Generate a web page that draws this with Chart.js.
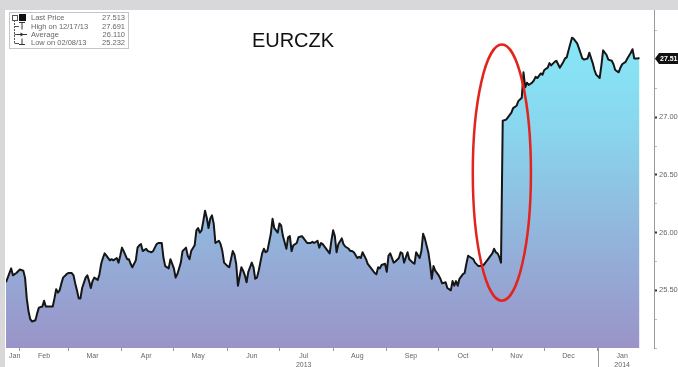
<!DOCTYPE html>
<html>
<head>
<meta charset="utf-8">
<script src="https://cdn.jsdelivr.net/npm/chart.js@4.4.1/dist/chart.umd.min.js"></script>
<style>
  html, body { margin: 0; padding: 0; background: #fff; }
  canvas { display: block; }
</style>
</head>
<body>
<canvas id="chart" width="678" height="367"></canvas>
<script>
// days counted from 2013-01-01, EURCZK close
const days = [
  23,24,26,27,28,29,31,33,34,35,36,37,38,40,41,42,44,45,46,47,50,51,52,53,54,55,56,58,59,61,62,63,64,65,66,67,69,70,71,72,73,74,76,77,78,79,80,81,83,84,85,87,88,
  89,90,91,93,94,95,96,98,99,100,101,102,104,105,107,108,110,111,113,114,115,117,118,120,121,122,124,125,127,128,129,130,132,133,134,135,136,137,138,139,140,141,142,143,144,146,147,148,149,151,152,
  154,155,156,157,159,160,161,162,163,165,166,167,168,169,171,172,173,174,176,177,178,180,181,182,183,185,186,187,188,189,191,192,194,195,197,199,200,201,203,204,205,206,208,210,211,212,213,214,215,217,218,219,
  221,222,223,224,226,227,228,229,231,232,234,236,237,238,239,240,242,243,244,245,247,248,250,251,252,253,255,256,258,259,260,262,263,264,265,267,268,269,270,271,273,274,275,277,278,280,
  281,282,283,284,285,287,288,289,290,292,293,294,296,297,299,300,301,303,304,305,306,307,308,309,
  310,312,313,315,316,318,319,321,322,323,324,325,327,328,329,330,332,333,334,336,337,338,340,341,343,345,346,347,348,350,351,353,354,356,357,359,360,362,363,364,366,367,368,370,371,373,374,375,377,378,379,381,382,384,385,386,388,389
];
const prices = [
  25.57,25.61,25.69,25.63,25.64,25.65,25.68,25.67,25.61,25.43,25.32,25.25,25.23,25.24,25.30,25.35,25.36,25.41,25.36,25.36,25.36,25.43,25.51,25.48,25.50,25.56,25.61,25.64,25.65,25.65,25.63,25.56,25.50,25.43,25.43,25.52,25.61,25.63,25.58,25.52,25.58,25.61,25.59,25.64,25.73,25.78,25.82,25.80,25.76,25.77,25.76,25.78,25.74,
  25.80,25.87,25.84,25.77,25.77,25.73,25.70,25.76,25.87,25.89,25.90,25.84,25.86,25.84,25.83,25.84,25.90,25.91,25.91,25.78,25.71,25.69,25.77,25.69,25.61,25.64,25.74,25.84,25.87,25.80,25.77,25.84,25.89,26.02,26.04,26.00,26.02,26.10,26.19,26.13,26.04,26.12,26.15,26.08,25.91,25.93,25.90,25.84,25.74,25.71,25.70,
  25.84,25.81,25.73,25.54,25.70,25.67,25.63,25.57,25.66,25.74,25.70,25.60,25.61,25.67,25.82,25.86,25.83,25.84,25.99,26.12,26.04,26.00,26.08,26.06,25.97,25.86,25.96,25.97,25.84,25.89,25.91,25.96,25.97,25.95,25.91,25.91,25.92,25.91,25.93,25.87,25.91,25.90,25.86,25.82,25.93,26.02,25.97,25.83,25.90,25.95,25.90,25.88,
  25.86,25.84,25.84,25.83,25.78,25.79,25.78,25.83,25.77,25.73,25.69,25.65,25.64,25.70,25.69,25.72,25.73,25.66,25.80,25.82,25.74,25.75,25.78,25.83,25.82,25.74,25.83,25.77,25.74,25.73,25.83,25.78,25.84,25.99,25.95,25.83,25.73,25.60,25.71,25.67,25.63,25.60,25.56,25.57,25.52,25.50,
  25.58,25.54,25.58,25.54,25.60,25.64,25.65,25.73,25.80,25.78,25.77,25.74,25.71,25.71,25.72,25.74,25.76,25.80,25.82,25.86,25.83,25.82,25.79,25.74,
  26.97,26.98,27.00,27.04,27.08,27.10,27.14,27.17,27.39,27.26,27.30,27.28,27.30,27.32,27.35,27.34,27.38,27.37,27.41,27.43,27.47,27.45,27.48,27.49,27.43,27.48,27.51,27.52,27.58,27.69,27.68,27.64,27.60,27.51,27.50,27.51,27.56,27.47,27.41,27.37,27.34,27.45,27.58,27.54,27.50,27.49,27.46,27.41,27.39,27.43,27.46,27.48,27.51,27.56,27.59,27.51,27.51,27.513
];

const monthStarts = [31, 59, 90, 120, 151, 181, 212, 243, 273, 304, 334, 365];
const yearStart = 365;
const monthMids = [28, 45, 73, 104, 134, 165, 195, 226, 257, 287, 318, 348, 379];
const monthLabels = [['Jan'], ['Feb'], ['Mar'], ['Apr'], ['May'], ['Jun'], ['Jul', '2013'],
  ['Aug'], ['Sep'], ['Oct'], ['Nov'], ['Dec'], ['Jan', '2014']];
const priceTicks = [25, 25.25, 25.5, 25.75, 26, 26.25, 26.5, 26.75, 27, 27.25, 27.5, 27.75];
const priceLabels = [26, 26.5, 27, 25.5];

const legendRows = [
  ['Last Price', '27.513'],
  ['High on 12/17/13', '27.691'],
  ['Average', '26.110'],
  ['Low on 02/08/13', '25.232']
];
const chartTitle = 'EURCZK';
// ring around the November jump, in data units
const ring = { day: 309.5, price: 26.52, rDays: 16.8, rPrice: 1.11 };

const FONT = '"Liberation Sans", Arial, sans-serif';

const decor = {
  id: 'decor',
  beforeDraw(chart) {
    const c = chart.ctx;
    c.save();
    c.fillStyle = '#d8d8da';
    c.fillRect(0, 0, chart.width, chart.height);
    c.fillStyle = '#ffffff';
    c.fillRect(5, 10, chart.width - 5, chart.height - 10);
    c.restore();
  },
  afterDraw(chart) {
    const c = chart.ctx;
    const x = chart.scales.x, y = chart.scales.y;
    c.save();

    // title
    c.fillStyle = '#111';
    c.font = '20px ' + FONT;
    c.textAlign = 'center';
    c.textBaseline = 'middle';
    c.fillText(chartTitle, 293, 41);

    // legend box
    c.strokeStyle = '#c4c4c4';
    c.lineWidth = 1;
    c.strokeRect(9.5, 12.5, 119, 36);
    c.font = '7.5px ' + FONT;
    c.fillStyle = '#666';
    const rowY = [18, 26.5, 34.5, 43];
    legendRows.forEach((r, i) => {
      c.textAlign = 'left';
      c.fillText(r[0], 31, rowY[i]);
      c.textAlign = 'right';
      c.fillText(r[1], 125, rowY[i]);
    });
    // legend markers
    c.strokeStyle = '#555';
    c.setLineDash([2, 1]);
    c.beginPath();
    c.moveTo(14.5, 20); c.lineTo(14.5, 43);
    c.stroke();
    c.setLineDash([]);
    c.beginPath();
    c.moveTo(14.5, 26.5); c.lineTo(19, 26.5);
    c.moveTo(14.5, 34.5); c.lineTo(17, 34.5);
    c.moveTo(14.5, 43.5); c.lineTo(19, 43.5);
    c.stroke();
    c.strokeRect(12.5, 15.5, 5, 5);
    c.fillStyle = '#111';
    c.fillRect(19, 14, 7, 7);
    c.strokeStyle = '#333';
    c.beginPath();
    c.moveTo(19, 22.5); c.lineTo(25, 22.5);
    c.moveTo(22, 22.5); c.lineTo(22, 29.5);
    c.moveTo(17, 34.5); c.lineTo(27, 34.5);
    c.moveTo(22, 38.5); c.lineTo(22, 44.5);
    c.moveTo(19, 44.5); c.lineTo(25, 44.5);
    c.stroke();
    c.beginPath();
    c.moveTo(20.5, 32.5); c.lineTo(24, 34.5); c.lineTo(20.5, 36.5);
    c.closePath();
    c.fillStyle = '#333';
    c.fill();

    // year separator under the x axis
    const yx = Math.round(x.getPixelForValue(yearStart)) + 0.5;
    c.strokeStyle = '#999';
    c.lineWidth = 1;
    c.beginPath();
    c.moveTo(yx, chart.chartArea.bottom);
    c.lineTo(yx, chart.height);
    c.stroke();

    // red ring
    const cx = x.getPixelForValue(ring.day);
    const cy = y.getPixelForValue(ring.price);
    const rx = x.getPixelForValue(ring.day + ring.rDays) - cx;
    const ry = cy - y.getPixelForValue(ring.price + ring.rPrice);
    c.strokeStyle = '#e3231d';
    c.lineWidth = 2.5;
    c.beginPath();
    c.ellipse(cx, cy, rx, ry, 0, 0, Math.PI * 2);
    c.stroke();

    // last price tag
    const last = prices[prices.length - 1];
    const ty = Math.round(y.getPixelForValue(last)) + 0.5;
    const tx = chart.chartArea.right;
    c.fillStyle = '#111';
    c.beginPath();
    c.moveTo(tx + 1, ty);
    c.lineTo(tx + 5, ty - 5.5);
    c.lineTo(chart.width, ty - 5.5);
    c.lineTo(chart.width, ty + 5.5);
    c.lineTo(tx + 5, ty + 5.5);
    c.closePath();
    c.fill();
    c.fillStyle = '#fff';
    c.font = 'bold 7px ' + FONT;
    c.textAlign = 'left';
    c.textBaseline = 'middle';
    c.fillText(last.toFixed(2), tx + 6, ty + 0.5);
    c.restore();
  }
};

new Chart(document.getElementById('chart'), {
  type: 'line',
  data: {
    datasets: [{
      data: days.map((d, i) => ({ x: d, y: prices[i] })),
      borderColor: '#161616',
      borderWidth: 2,
      borderJoinStyle: 'round',
      pointRadius: 0,
      tension: 0,
      fill: 'start',
      backgroundColor: (ctx) => {
        const a = ctx.chart.chartArea;
        if (!a) return 'rgba(0,0,0,0)';
        const g = ctx.chart.ctx.createLinearGradient(0, a.top, 0, a.bottom);
        g.addColorStop(0, '#85edf9');
        g.addColorStop(0.35, '#89d6ee');
        g.addColorStop(0.7, '#93b1da');
        g.addColorStop(1, '#9a93c8');
        return g;
      }
    }]
  },
  options: {
    responsive: false,
    animation: false,
    layout: { padding: { left: 6, top: 10, right: 0, bottom: 0 } },
    plugins: {
      legend: { display: false },
      tooltip: { enabled: false }
    },
    scales: {
      x: {
        type: 'linear',
        min: 23,
        max: 397.4,
        afterFit: (s) => { s.height = 19; },
        afterBuildTicks: (s) => {
          s.ticks = monthStarts.concat(monthMids).sort((a, b) => a - b).map(v => ({ value: v }));
        },
        border: { display: false },
        grid: {
          drawOnChartArea: false,
          drawTicks: true,
          tickLength: 3,
          tickColor: (c) => (c.tick && monthStarts.includes(c.tick.value)) ? '#999' : 'rgba(0,0,0,0)'
        },
        ticks: {
          autoSkip: false,
          maxRotation: 0,
          minRotation: 0,
          padding: 0,
          color: '#666',
          font: { family: FONT, size: 7, lineHeight: 1.35 },
          callback: (v) => {
            const i = monthMids.indexOf(v);
            return i >= 0 ? monthLabels[i] : '';
          }
        }
      },
      y: {
        position: 'right',
        min: 25,
        max: 27.93,
        afterFit: (s) => { s.width = 24; },
        afterBuildTicks: (s) => { s.ticks = priceTicks.map(v => ({ value: v })); },
        border: { display: true, color: '#9a9a9a', width: 1 },
        grid: {
          drawOnChartArea: false,
          tickLength: 3,
          tickColor: (c) => (c.tick && priceLabels.includes(c.tick.value)) ? '#333' : '#bbb',
          tickWidth: (c) => (c.tick && priceLabels.includes(c.tick.value)) ? 2 : 1
        },
        ticks: {
          padding: 2,
          color: '#666',
          font: { family: FONT, size: 7.5 },
          callback: (v) => priceLabels.includes(v) ? v.toFixed(2) : ''
        }
      }
    }
  },
  plugins: [decor]
});
</script>
</body>
</html>
